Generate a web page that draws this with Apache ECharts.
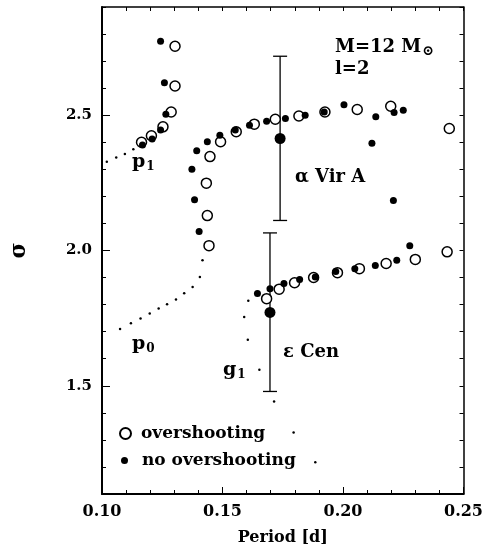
<!DOCTYPE html>
<html>
<head>
<meta charset="utf-8">
<script src="https://cdn.jsdelivr.net/npm/echarts@6/dist/echarts.min.js"></script>
<style>
  html, body { margin: 0; padding: 0; background: #fff; }
  #chart { width: 486px; height: 555px; }
</style>
</head>
<body>
<div id="chart"></div>
<script>
// period [d], sigma
var overshooting = [
  [0.1164, 2.400], [0.1205, 2.424], [0.1253, 2.457], [0.1287, 2.512], [0.1303, 2.608], [0.1303, 2.755],
  [0.1444, 2.018], [0.1437, 2.129], [0.1433, 2.249], [0.1448, 2.347], [0.1492, 2.402], [0.1557, 2.439],
  [0.1632, 2.467], [0.1719, 2.485], [0.1817, 2.497], [0.1925, 2.512], [0.2059, 2.521], [0.2198, 2.533],
  [0.2441, 2.451],
  [0.1683, 1.822], [0.1735, 1.857], [0.1799, 1.881], [0.1878, 1.900], [0.1977, 1.918], [0.2068, 1.933],
  [0.2179, 1.952], [0.2300, 1.967], [0.2432, 1.995]
];
var noOvershooting = [
  [0.1168, 2.390], [0.1208, 2.412], [0.1243, 2.445], [0.1265, 2.504], [0.1259, 2.620], [0.1243, 2.773],
  [0.1403, 2.070], [0.1384, 2.188], [0.1373, 2.300], [0.1393, 2.369], [0.1437, 2.402], [0.1489, 2.426],
  [0.1553, 2.445], [0.1612, 2.463], [0.1683, 2.478], [0.1761, 2.488], [0.1843, 2.500], [0.1922, 2.512],
  [0.2004, 2.539], [0.2136, 2.494], [0.2120, 2.396], [0.2212, 2.510], [0.2250, 2.518], [0.2209, 2.185],
  [0.1645, 1.841], [0.1697, 1.859], [0.1755, 1.878], [0.1820, 1.893], [0.1885, 1.902], [0.1970, 1.922],
  [0.2049, 1.933], [0.2134, 1.945], [0.2223, 1.964], [0.2277, 2.018]
];
// dotted mode tracks
var trackP1 = [[0.1020, 2.328], [0.1059, 2.344], [0.1095, 2.357], [0.1130, 2.374]];
var trackP0 = [
  [0.1075, 1.710], [0.1120, 1.731], [0.1160, 1.749], [0.1198, 1.767], [0.1235, 1.786], [0.1270, 1.801],
  [0.1307, 1.819], [0.1341, 1.842], [0.1376, 1.865], [0.1406, 1.902], [0.1417, 1.964]
];
var trackG1 = [
  [0.1607, 1.814], [0.1590, 1.754], [0.1605, 1.670], [0.1653, 1.559], [0.1714, 1.442],
  [0.1795, 1.327], [0.1885, 1.217]
];
// observed stars with sigma error bars
var starNames = ["α Vir A", "ε Cen"];
var starPeriod = [0.1739, 0.1697];
var starSigma = [2.414, 1.771];
var starLow = [2.111, 1.479];
var starHigh = [2.718, 2.065];
var yLabels = [1.5, 2.0, 2.5];

var FONT = "DejaVu Serif";
var chart = echarts.init(document.getElementById("chart"));

var errData = starPeriod.map(function(p, i) {
  return [p, starLow[i], starHigh[i]];
});

function axisBase() {
  return {
    type: "value",
    axisLine: { show: true, lineStyle: { color: "#000", width: 2 } },
    splitLine: { show: false },
    axisLabel: { show: false },
    axisTick: { inside: true, length: 5, lineStyle: { color: "#000", width: 1 } }
  };
}

var xBottom = axisBase();
xBottom.position = "bottom";
xBottom.min = 0.10; xBottom.max = 0.25; xBottom.interval = 0.05;
xBottom.axisTick.length = 7;
xBottom.minorTick = { show: true, splitNumber: 5, length: 4, lineStyle: { color: "#000" } };
xBottom.axisLabel = {
  show: true, color: "#000", fontFamily: FONT, fontWeight: "bold", fontSize: 16, margin: 10,
  formatter: function(v) { return v.toFixed(2); }
};
xBottom.name = "Period [d]";
xBottom.nameLocation = "middle";
xBottom.nameGap = 36;
xBottom.nameTextStyle = { color: "#000", fontFamily: FONT, fontWeight: "bold", fontSize: 16 };

var xTop = axisBase();
xTop.position = "top";
xTop.min = 0.10; xTop.max = 0.25; xTop.interval = 0.01;
xTop.axisLine.lineStyle.width = 1.5;
xTop.axisTick.length = 4;

var yLeft = axisBase();
yLeft.position = "left";
yLeft.min = 1.1; yLeft.max = 2.9; yLeft.interval = 0.1;
yLeft.axisTick.length = 4;
yLeft.axisLabel = {
  show: true, color: "#000", fontFamily: FONT, fontWeight: "bold", fontSize: 15, margin: 10,
  formatter: function(v) {
    for (var i = 0; i < yLabels.length; i++) {
      if (Math.abs(v - yLabels[i]) < 1e-6) return yLabels[i].toFixed(1);
    }
    return "";
  }
};
yLeft.name = "σ";
yLeft.nameLocation = "middle";
yLeft.nameGap = 72;
yLeft.nameTextStyle = { color: "#000", fontFamily: FONT, fontWeight: "bold", fontSize: 22 };

// longer ticks at the labelled values
var yLeftMajor = axisBase();
yLeftMajor.position = "left";
yLeftMajor.min = 1.1; yLeftMajor.max = 2.9;
yLeftMajor.axisLine.show = false;
yLeftMajor.axisTick.length = 8;
yLeftMajor.axisTick.customValues = yLabels;

var yRight = axisBase();
yRight.position = "right";
yRight.min = 1.1; yRight.max = 2.9; yRight.interval = 0.1;
yRight.axisLine.lineStyle.width = 1.5;
yRight.axisTick.length = 4;

function track(data) {
  return {
    type: "scatter", xAxisIndex: 0, yAxisIndex: 0, data: data,
    symbol: "circle", symbolSize: 2.5, silent: true,
    itemStyle: { color: "#000", opacity: 1 }
  };
}

var legendText = { color: "#000", fontFamily: FONT, fontWeight: "bold", fontSize: 17 };

var option = {
  backgroundColor: "#fff",
  animation: false,
  grid: { left: 100, right: 22, top: 7, bottom: 61 },
  xAxis: [xBottom, xTop],
  yAxis: [yLeft, yLeftMajor, yRight],
  legend: [
    {
      data: ["overshooting"], left: 119, top: 425, padding: 0,
      itemWidth: 11, itemHeight: 11,
      textStyle: Object.assign({ padding: [0, 0, 0, 5] }, legendText)
    },
    {
      data: ["no overshooting"], left: 121, top: 452, padding: 0,
      itemWidth: 7, itemHeight: 7,
      textStyle: Object.assign({ padding: [0, 0, 0, 9] }, legendText)
    }
  ],
  series: [
    track(trackP1),
    track(trackP0),
    track(trackG1),
    {
      type: "custom", xAxisIndex: 0, yAxisIndex: 0, data: errData, silent: true,
      renderItem: function(params, api) {
        var top = api.coord([api.value(0), api.value(2)]);
        var bot = api.coord([api.value(0), api.value(1)]);
        var w = 7;
        var st = { stroke: "#000", lineWidth: 1.3 };
        return {
          type: "group",
          children: [
            { type: "line", shape: { x1: top[0], y1: top[1], x2: bot[0], y2: bot[1] }, style: st },
            { type: "line", shape: { x1: top[0] - w, y1: top[1], x2: top[0] + w, y2: top[1] }, style: st },
            { type: "line", shape: { x1: bot[0] - w, y1: bot[1], x2: bot[0] + w, y2: bot[1] }, style: st }
          ]
        };
      }
    },
    {
      name: "overshooting", type: "scatter", xAxisIndex: 0, yAxisIndex: 0,
      data: overshooting, symbol: "circle", symbolSize: 10,
      itemStyle: { color: "#fff", borderColor: "#000", borderWidth: 1.5, opacity: 1 }
    },
    {
      name: "no overshooting", type: "scatter", xAxisIndex: 0, yAxisIndex: 0,
      data: noOvershooting, symbol: "circle", symbolSize: 7,
      itemStyle: { color: "#000", opacity: 1 }
    },
    {
      type: "scatter", xAxisIndex: 0, yAxisIndex: 0,
      data: starPeriod.map(function(p, i) { return { name: starNames[i], value: [p, starSigma[i]] }; }),
      symbol: "circle", symbolSize: 11, itemStyle: { color: "#000", opacity: 1 }
    }
  ],
  graphic: [
    {
      type: "text", left: 335, top: 38,
      style: {
        text: "{a|M=12 M}{b|⊙}\n{a|l=2}",
        rich: {
          a: { fontFamily: FONT, fontWeight: "bold", fontSize: 18, fill: "#000", lineHeight: 22 },
          b: { fontFamily: FONT, fontWeight: "bold", fontSize: 14, fill: "#000", padding: [8, 0, 0, 1] }
        }
      }
    },
    {
      type: "text", left: 132, top: 153,
      style: {
        text: "{a|p}{b|1}",
        rich: {
          a: { fontFamily: FONT, fontWeight: "bold", fontSize: 19, fill: "#000" },
          b: { fontFamily: FONT, fontWeight: "bold", fontSize: 12, fill: "#000", padding: [8, 0, 0, 1] }
        }
      }
    },
    {
      type: "text", left: 132, top: 335,
      style: {
        text: "{a|p}{b|0}",
        rich: {
          a: { fontFamily: FONT, fontWeight: "bold", fontSize: 19, fill: "#000" },
          b: { fontFamily: FONT, fontWeight: "bold", fontSize: 12, fill: "#000", padding: [8, 0, 0, 1] }
        }
      }
    },
    {
      type: "text", left: 223, top: 361,
      style: {
        text: "{a|g}{b|1}",
        rich: {
          a: { fontFamily: FONT, fontWeight: "bold", fontSize: 19, fill: "#000" },
          b: { fontFamily: FONT, fontWeight: "bold", fontSize: 12, fill: "#000", padding: [8, 0, 0, 1] }
        }
      }
    },
    {
      type: "text", left: 295, top: 168,
      style: { text: starNames[0], fontFamily: FONT, fontWeight: "bold", fontSize: 18, fill: "#000" }
    },
    {
      type: "text", left: 283, top: 343,
      style: { text: starNames[1], fontFamily: FONT, fontWeight: "bold", fontSize: 18, fill: "#000" }
    }
  ]
};

chart.setOption(option);
</script>
</body>
</html>
